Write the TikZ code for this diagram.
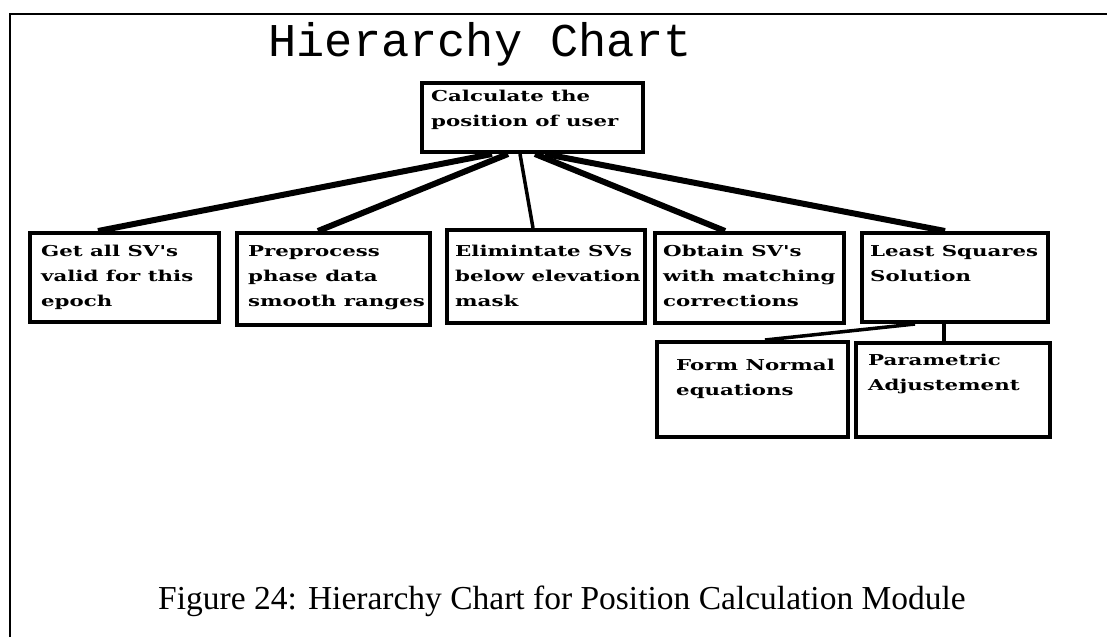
\documentclass[tikz,border=0pt]{standalone}
\usepackage{fontspec}
\setmainfont{Liberation Serif}
\newfontfamily\titlefont{Liberation Mono}
\newfontfamily\boxfont[FakeStretch=1.42]{DejaVu Serif}
\usetikzlibrary{calc}

\tikzset{
  box/.style={draw, rectangle, line width=4pt, inner sep=0pt},
  lbl/.style={font={\boxfont\bfseries\fontsize{15}{25}\selectfont},
              align=left, inner sep=0pt, anchor=north west},
  link/.style={line width=6pt},
  thinlink/.style={line width=3.5pt},
  frame/.style={line width=2pt},
}

% text of a box, cut off at the inner edge of its border
\newcommand{\boxtext}[4]{%
  \begin{scope}
    \clip ($(#1.north west)+(2,2)$) rectangle ($(#1.south east)+(-2,-2)$);
    \node[lbl] (#2) at ($(#1.north west)+#3$) {#4};
  \end{scope}}

\begin{document}
\begin{tikzpicture}[x=1pt,y=-1pt]
  \useasboundingbox (0,0) rectangle (1107,637);

  % page frame (top and left edges)
  \draw[frame] (10,637) -- (10,14) -- (1107,14);

  % title
  \node[font={\titlefont\fontsize{47}{47}\selectfont}, anchor=base, inner sep=0pt]
    (title) at (480,56) {Hierarchy Chart};

  % boxes
  \node[box, minimum width=221, minimum height=69] (top) at (532.5,117.5) {};
  \node[box, minimum width=189, minimum height=89] (b1) at (124.5,277.5) {};
  \node[box, minimum width=193, minimum height=92] (b2) at (333.5,279) {};
  \node[box, minimum width=198, minimum height=93] (b3) at (546,276.5) {};
  \node[box, minimum width=189, minimum height=90] (b4) at (749.5,278) {};
  \node[box, minimum width=186, minimum height=89] (b5) at (955,277.5) {};
  \node[box, minimum width=191, minimum height=95] (b6) at (752.5,389.5) {};
  \node[box, minimum width=194, minimum height=94] (b7) at (953,390) {};

  % box texts
  \boxtext{top}{ttop}{(11,9)}{Calculate the\\position of user}
  \boxtext{b1}{t1}{(13,14)}{Get all SV's\\valid for this\\epoch}
  \boxtext{b2}{t2}{(13,14)}{Preprocess\\phase data\\smooth ranges}
  \boxtext{b3}{t3}{(10,17)}{Elimintate SVs\\below elevation\\mask}
  \boxtext{b4}{t4}{(10,14)}{Obtain SV's\\with matching\\corrections}
  \boxtext{b5}{t5}{(10,14)}{Least Squares\\Solution}
  \boxtext{b6}{t6}{(21,19)}{Form Normal\\equations}
  \boxtext{b7}{t7}{(14,13)}{Parametric\\Adjustement}

  % connectors
  \draw[link] ($(top.south west)+(72,0)$)  -- ($(b1.north west)+(70,0)$);
  \draw[link] ($(top.south west)+(88,0)$)  -- ($(b2.north west)+(83,0)$);
  \draw[thinlink] ($(top.south west)+(100,0)$) -- ($(b3.north west)+(88,0)$);
  \draw[link] ($(top.south west)+(115,0)$) -- ($(b4.north west)+(72,0)$);
  \draw[link] ($(top.south west)+(125,0)$) -- ($(b5.north west)+(85,0)$);
  \draw[thinlink] ($(b5.south west)+(55,0)$) -- ($(b6.north west)+(110,0)$);
  \draw[thinlink] ($(b5.south west)+(84,0)$) -- ($(b7.north west)+(90,0)$);

  % caption
  \node[font={\fontsize{33.5}{34}\selectfont}, anchor=base, inner sep=0pt]
    (caption) at (562,609) {Figure 24: Hierarchy Chart for Position Calculation Module};
\end{tikzpicture}
\end{document}
